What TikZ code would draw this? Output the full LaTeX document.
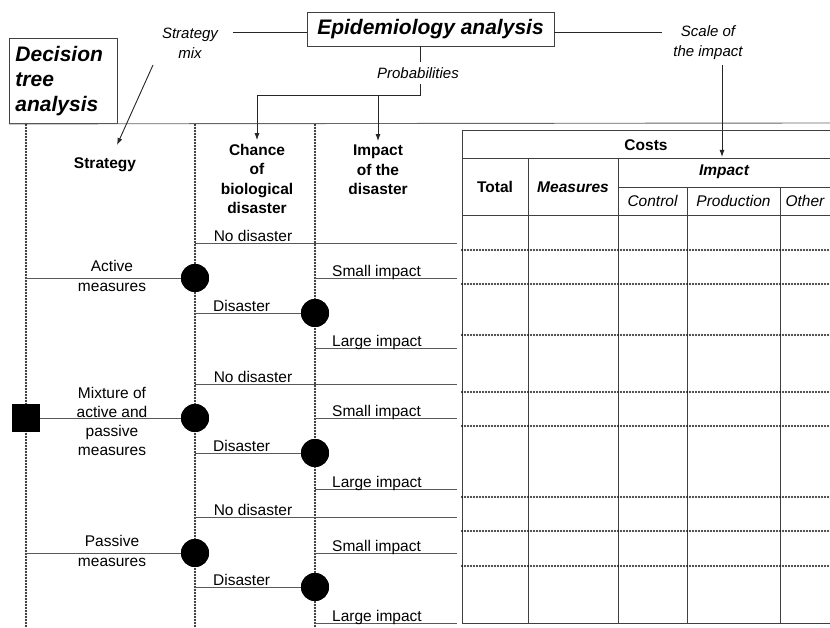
\documentclass[tikz,border=0pt]{standalone}
\usepackage{fontspec}
\setmainfont{Liberation Sans}
\usetikzlibrary{arrows.meta}
\begin{document}
\begin{tikzpicture}[x=1pt,y=-1pt,
  lbl/.style={font=\fontsize{15.5}{19.3}\selectfont, inner sep=0pt, align=center},
  hdr/.style={font=\fontsize{15.5}{19.3}\selectfont\bfseries, inner sep=0pt, align=center},
  note/.style={font=\fontsize{15}{20}\selectfont\itshape, inner sep=0pt, align=center},
  cell/.style={font=\fontsize{15.5}{19}\selectfont, inner sep=0pt},
  titlebox/.style={font=\fontsize{21}{25}\selectfont\bfseries\itshape, draw=black!75, line width=0.9pt},
  guide/.style={line width=2.1pt, line cap=round, dash pattern=on 0pt off 3pt, black},
  rowsep/.style={line width=2.1pt, line cap=round, dash pattern=on 0pt off 3pt, black!90},
  branch/.style={line width=0.8pt, black!65},
  grid/.style={line width=0.9pt, black!75},
  link/.style={line width=0.9pt, black!85},
  arr/.style={link, -{Latex[length=7pt,width=5pt]}},
  chance/.style={circle, fill=black, minimum size=28pt, inner sep=0pt},
  decision/.style={rectangle, fill=black, minimum size=28pt, inner sep=0pt},
]
\useasboundingbox (0,0) rectangle (830,628);

% ---- analysis boxes and annotations ----
\node[titlebox, anchor=north west, minimum width=108pt, minimum height=85pt,
      text width=96pt, inner xsep=6pt, align=left] (dta) at (9,38)
      {Decision\\tree\\analysis};
\node[titlebox, minimum width=247pt, minimum height=34pt, inner sep=0pt] (epi) at (430.5,29)
      {Epidemiology analysis};
\node[note] (smix) at (190,43) {Strategy\\mix};
\node[note] (scale) at (708,43) {Scale of\\the impact};
\node[note, inner sep=5pt] (prob) at (418,73) {Probabilities};

\coordinate (smixend) at (233,32);
\coordinate (scaleend) at (662,32);
\coordinate (pj) at (420,95);
\coordinate (topend) at (830,123);

\draw[link] (smixend) -- (smixend -| epi.west);
\draw[link] (scaleend -| epi.east) -- (scaleend);
\draw[grid, black!60] (dta.south west) -- (topend);

% ---- column headings ----
\node[hdr] (sthdr) at (105,165) {Strategy};
\node[hdr] (chhdr) at (257,179) {Chance\\of\\biological\\disaster};
\node[hdr] (imhdr) at (378,170) {Impact\\of the\\disaster};

% probabilities feed both chance and impact columns
\draw[link] (epi.south -| pj) -- (prob.north -| pj);
\draw[arr] (prob.south -| pj) -- (pj) -| ([yshift=4pt]chhdr.north);
\draw[arr] (pj -| imhdr.north) -- ([yshift=4pt]imhdr.north);

\coordinate (smixa) at (153,65);
\coordinate (smixb) at (117,145);
\draw[arr] (smixa) -- (smixb);

\coordinate (scaletip) at (722,157);
\draw[arr] (scale.south -| scaletip) ++(0,5) -- (scaletip);

% ---- dotted stage guides ----
\coordinate (g1t) at (26,125);  \coordinate (g1b) at (26,628);
\coordinate (g2t) at (195,125); \coordinate (g2b) at (195,628);
\coordinate (g3t) at (315,125); \coordinate (g3b) at (315,628);
\draw[guide] (g1t) -- (g1b);
\draw[guide] (g2t) -- (g2b);
\draw[guide] (g3t) -- (g3b);

% ---- tree nodes ----
\node[decision] (sq) at (26,418) {};
\node[chance] (c1) at (195,278) {};
\node[chance] (c2) at (195,418) {};
\node[chance] (c3) at (195,553) {};
\node[chance] (d1) at (315,313) {};
\node[chance] (d2) at (315,453) {};
\node[chance] (d3) at (315,587) {};

% outcome line end points
\coordinate (n1) at (195,243); \coordinate (n1e) at (457,243);
\coordinate (n2) at (195,384); \coordinate (n2e) at (457,384);
\coordinate (n3) at (195,517); \coordinate (n3e) at (457,517);
\coordinate (e1) at (195,313); \coordinate (e2) at (195,453); \coordinate (e3) at (195,587);
\coordinate (s1) at (315,278); \coordinate (s1e) at (457,278);
\coordinate (l1) at (315,348); \coordinate (l1e) at (457,348);
\coordinate (s2) at (315,418); \coordinate (s2e) at (457,418);
\coordinate (l2) at (315,489); \coordinate (l2e) at (457,489);
\coordinate (s3) at (315,553); \coordinate (s3e) at (457,553);
\coordinate (l3) at (315,623); \coordinate (l3e) at (457,623);

% strategy branches
\draw[branch] (c1 -| sq) -- (c1);
\draw[branch] (sq) -- (c2);
\draw[branch] (c3 -| sq) -- (c3);
% chance branches
\draw[branch] (n1) -- (n1e);
\draw[branch] (n2) -- (n2e);
\draw[branch] (n3) -- (n3e);
\draw[branch] (e1) -- (d1);
\draw[branch] (e2) -- (d2);
\draw[branch] (e3) -- (d3);
% impact branches
\draw[branch] (s1) -- (s1e);
\draw[branch] (l1) -- (l1e);
\draw[branch] (s2) -- (s2e);
\draw[branch] (l2) -- (l2e);
\draw[branch] (s3) -- (s3e);
\draw[branch] (l3) -- (l3e);

% redraw nodes above the lines
\node[decision] at (sq) {};
\foreach \n in {c1,c2,c3,d1,d2,d3} \node[chance] at (\n) {};

% ---- branch labels ----
\node[lbl] (act) at (112,276) {Active\\measures};
\node[lbl] (mix) at (112,421.5) {Mixture of\\active and\\passive\\measures};
\node[lbl] (pas) at (112,551) {Passive\\measures};

\foreach \y in {241.5,382.5,515.5}
  \node[lbl, anchor=base] at (253,\y) {No disaster};
\foreach \y in {311.5,451.5,585.5}
  \node[lbl, anchor=base west] at (213,\y) {Disaster};
\foreach \y in {276.5,416.5,551.5}
  \node[lbl, anchor=base west] at (332,\y) {Small impact};
\foreach \y in {346.5,487.5,621.5}
  \node[lbl, anchor=base west] at (332,\y) {Large impact};

% ---- cost table ----
\draw[grid] (462,130) -- (830,130);
\draw[grid] (462,158) -- (830,158);
\draw[grid] (618,187) -- (830,187);
\draw[grid] (462,215) -- (830,215);
\draw[grid] (462,623) -- (830,623);
\draw[grid] (462,130) -- (462,623);
\draw[grid] (528,158) -- (528,623);
\draw[grid] (618,158) -- (618,623);
\draw[grid] (687,187) -- (687,623);
\draw[grid] (780,187) -- (780,623);
\foreach \y in {250,284,335,392,426,497,531,566}
  \draw[rowsep] (462,\y) -- (830,\y);

\node[cell, font=\fontsize{15.5}{19}\selectfont\bfseries] (costs) at (646,145) {Costs};
\node[cell, font=\fontsize{15.5}{19}\selectfont\bfseries] (total) at (495,187) {Total};
\node[cell, font=\fontsize{15.5}{19}\selectfont\bfseries\itshape] (meas) at (573,187) {Measures};
\node[cell, font=\fontsize{15.5}{19}\selectfont\bfseries\itshape] (impact) at (724,172) {Impact};
\node[cell, font=\fontsize{15.5}{19}\selectfont\itshape] (ctrl) at (652.5,201) {Control};
\node[cell, font=\fontsize{15.5}{19}\selectfont\itshape] (prod) at (733.5,201) {Production};
\node[cell, font=\fontsize{15.5}{19}\selectfont\itshape] (other) at (805,201) {Other};
\end{tikzpicture}
\end{document}
